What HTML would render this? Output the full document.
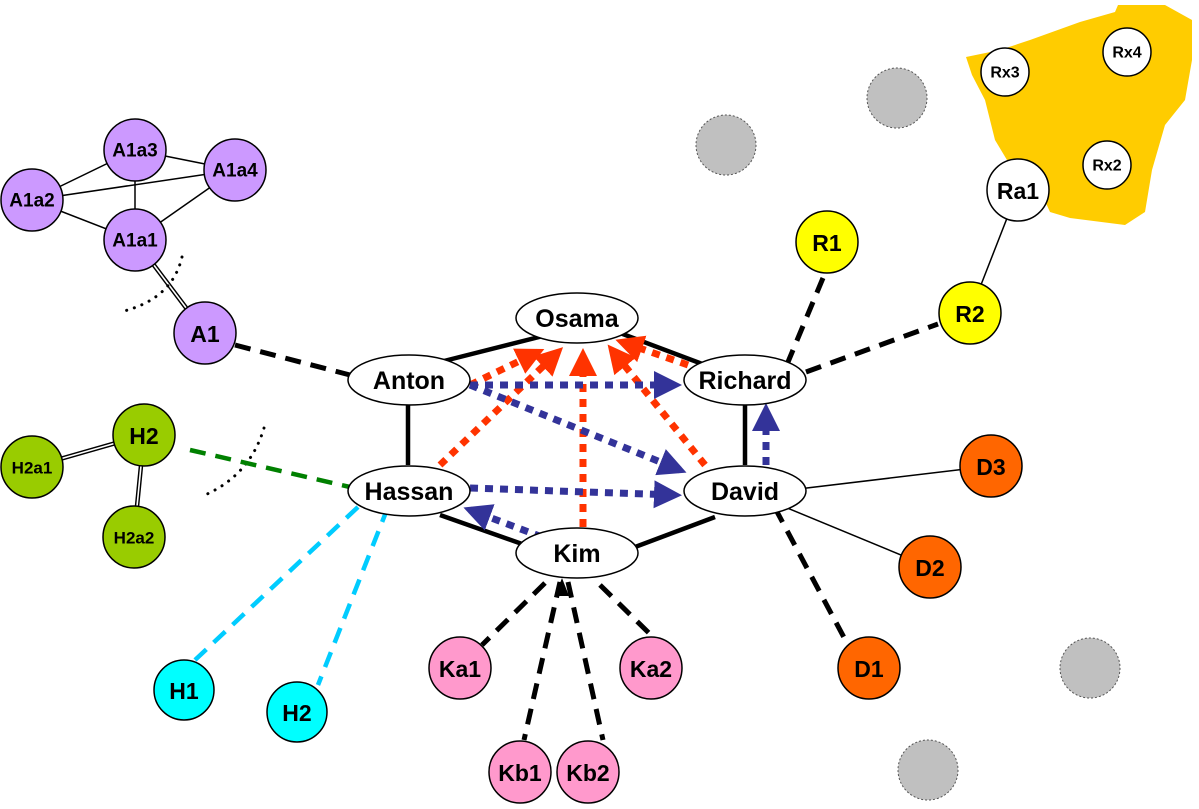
<!DOCTYPE html>
<html><head><meta charset="utf-8"><style>
body{margin:0;background:#fff}
svg text{font-family:"Liberation Sans",sans-serif;font-weight:bold;text-anchor:middle;dominant-baseline:central;fill:#000}
</style></head><body>
<svg width="1199" height="804" viewBox="0 0 1199 804" xmlns="http://www.w3.org/2000/svg">
<defs>
<marker id="ar" markerWidth="4" markerHeight="4" refX="3" refY="2" orient="auto" markerUnits="strokeWidth"><path d="M0,0 L4,2 L0,4 z" fill="#ff3300"/></marker>
<marker id="ab" markerWidth="4" markerHeight="4" refX="3" refY="2" orient="auto" markerUnits="strokeWidth"><path d="M0,0 L4,2 L0,4 z" fill="#333399"/></marker>
</defs>
<path d="M966,57 L1000,50 L1030,40 L1080,22 L1115,12 L1118,5 L1165,5 L1192,20 L1192,60 L1185,100 L1165,125 L1152,170 L1145,212 L1125,225 L1070,218 L1050,212 L1040,190 L1010,165 L995,140 L985,100 L972,75 z" fill="#ffcc00"/>
<g fill="#c0c0c0" stroke="#555" stroke-width="1" stroke-dasharray="2,2">
<circle cx="726" cy="145" r="30"/><circle cx="897" cy="98" r="30"/><circle cx="1090" cy="668" r="30"/><circle cx="928" cy="770" r="30"/></g>
<g stroke="#000" stroke-width="1.5" fill="none">
<line x1="135" y1="150" x2="32" y2="200"/><line x1="135" y1="150" x2="235" y2="170"/><line x1="135" y1="150" x2="135" y2="240"/>
<line x1="32" y1="200" x2="235" y2="170"/><line x1="32" y1="200" x2="135" y2="240"/><line x1="235" y1="170" x2="135" y2="240"/>
<line x1="1018" y1="190" x2="970" y2="313"/>
<line x1="790" y1="490" x2="991" y2="466"/><line x1="780" y1="505" x2="930" y2="567"/>
</g>
<g stroke="#000" stroke-width="4.5" fill="none"><line x1="135" y1="240" x2="205" y2="333"/><line x1="144" y1="435" x2="32" y2="467"/><line x1="144" y1="435" x2="134" y2="537"/></g>
<g stroke="#fff" stroke-width="1.6" fill="none"><line x1="135" y1="240" x2="205" y2="333"/><line x1="144" y1="435" x2="32" y2="467"/><line x1="144" y1="435" x2="134" y2="537"/></g>
<path d="M182,257 Q172,300 120,312" stroke="#000" stroke-width="3" stroke-dasharray="0.1,8" stroke-linecap="round" fill="none"/>
<path d="M264,428 Q250,475 205,495" stroke="#000" stroke-width="3" stroke-dasharray="0.1,8" stroke-linecap="round" fill="none"/>
<g stroke="#000" stroke-width="4.5">
<line x1="555" y1="333" x2="440" y2="362"/><line x1="620" y1="333" x2="705" y2="365"/>
<line x1="408" y1="405" x2="408" y2="465"/><line x1="745" y1="405" x2="745" y2="465"/>
<line x1="440" y1="515" x2="525" y2="545"/><line x1="635" y1="547" x2="715" y2="517"/></g>
<g stroke="#000" stroke-width="5" stroke-dasharray="16,10" fill="none">
<line x1="235" y1="345" x2="350" y2="375"/>
<line x1="823" y1="278" x2="788" y2="362"/><line x1="806" y1="372" x2="938" y2="324"/>
<line x1="775" y1="508" x2="848" y2="645"/>
<line x1="545" y1="583" x2="482" y2="645"/><line x1="600" y1="585" x2="652" y2="636"/>
<line x1="560" y1="582" x2="524" y2="740"/><line x1="568" y1="582" x2="603" y2="740"/>
</g>
<path d="M555,596 L562,578 L569,596 z" fill="#000"/>
<line x1="190" y1="450" x2="350" y2="487" stroke="#008000" stroke-width="4.5" stroke-dasharray="16,10"/>
<g stroke="#00ccff" stroke-width="4.5" stroke-dasharray="16,10"><line x1="358" y1="507" x2="195" y2="660"/><line x1="388" y1="507" x2="318" y2="685"/></g>
<g stroke="#ff3300" stroke-width="7" stroke-dasharray="8,7" fill="none" marker-end="url(#ar)">
<line x1="470" y1="385" x2="538" y2="352"/>
<line x1="440" y1="465" x2="558" y2="352"/>
<line x1="583" y1="527" x2="583" y2="355"/>
<line x1="705" y1="465" x2="612" y2="350"/>
<line x1="688" y1="365" x2="622" y2="342"/>
</g>
<g stroke="#333399" stroke-width="7" stroke-dasharray="8,7" fill="none" marker-end="url(#ab)">
<line x1="470" y1="385" x2="675" y2="385"/>
<line x1="470" y1="385" x2="680" y2="470"/>
<line x1="470" y1="488" x2="675" y2="495"/>
<line x1="542" y1="537" x2="470" y2="510"/>
<line x1="766" y1="465" x2="766" y2="410"/>
</g>
<g fill="#fff" stroke="#000" stroke-width="1.5">
<ellipse cx="577" cy="318" rx="61" ry="25"/><ellipse cx="409" cy="380" rx="61" ry="25"/><ellipse cx="745" cy="380" rx="61" ry="25"/>
<ellipse cx="409" cy="491" rx="61" ry="25"/><ellipse cx="745" cy="491" rx="61" ry="25"/><ellipse cx="577" cy="553" rx="61" ry="25"/></g>
<g font-size="25">
<text x="577" y="319">Osama</text><text x="409" y="381">Anton</text><text x="745" y="381">Richard</text>
<text x="409" y="492">Hassan</text><text x="745" y="492">David</text><text x="577" y="554">Kim</text></g>
<g stroke="#000" stroke-width="1.5">
<g fill="#cc99ff"><circle cx="135" cy="150" r="31"/><circle cx="235" cy="170" r="31"/><circle cx="32" cy="200" r="31"/><circle cx="135" cy="240" r="31"/><circle cx="205" cy="333" r="31"/></g>
<g fill="#99cc00"><circle cx="144" cy="435" r="31"/><circle cx="32" cy="467" r="31"/><circle cx="134" cy="537" r="31"/></g>
<g fill="#00ffff"><circle cx="184" cy="690" r="30"/><circle cx="297" cy="712" r="30"/></g>
<g fill="#ff99cc"><circle cx="460" cy="668" r="31"/><circle cx="651" cy="668" r="31"/><circle cx="520" cy="772" r="31"/><circle cx="588" cy="772" r="31"/></g>
<g fill="#ff6600"><circle cx="991" cy="466" r="31"/><circle cx="930" cy="567" r="31"/><circle cx="869" cy="668" r="31"/></g>
<g fill="#ffff00"><circle cx="827" cy="242" r="31"/><circle cx="970" cy="313" r="31"/></g>
<g fill="#fff"><circle cx="1018" cy="190" r="31"/><circle cx="1005" cy="72" r="24"/><circle cx="1127" cy="52" r="24"/><circle cx="1107" cy="165" r="24"/></g>
</g>
<g font-size="19">
<text x="135" y="151">A1a3</text><text x="235" y="171">A1a4</text><text x="32" y="201">A1a2</text><text x="135" y="241">A1a1</text>
<text x="134" y="538" font-weight="normal" font-size="17">H2a2</text><text x="32" y="468" font-weight="normal" font-size="17">H2a1</text>
<text x="1005" y="73" font-weight="normal" font-size="16">Rx3</text><text x="1127" y="53" font-weight="normal" font-size="16">Rx4</text><text x="1107" y="166" font-weight="normal" font-size="16">Rx2</text>
</g>
<g font-size="23">
<text x="205" y="334">A1</text><text x="144" y="436">H2</text><text x="184" y="691">H1</text><text x="297" y="713">H2</text>
<text x="460" y="669">Ka1</text><text x="651" y="669">Ka2</text><text x="520" y="773">Kb1</text><text x="588" y="773">Kb2</text>
<text x="991" y="467">D3</text><text x="930" y="568">D2</text><text x="869" y="669">D1</text>
<text x="827" y="243">R1</text><text x="970" y="314">R2</text><text x="1018" y="191">Ra1</text>
</g>
</svg>
</body></html>
